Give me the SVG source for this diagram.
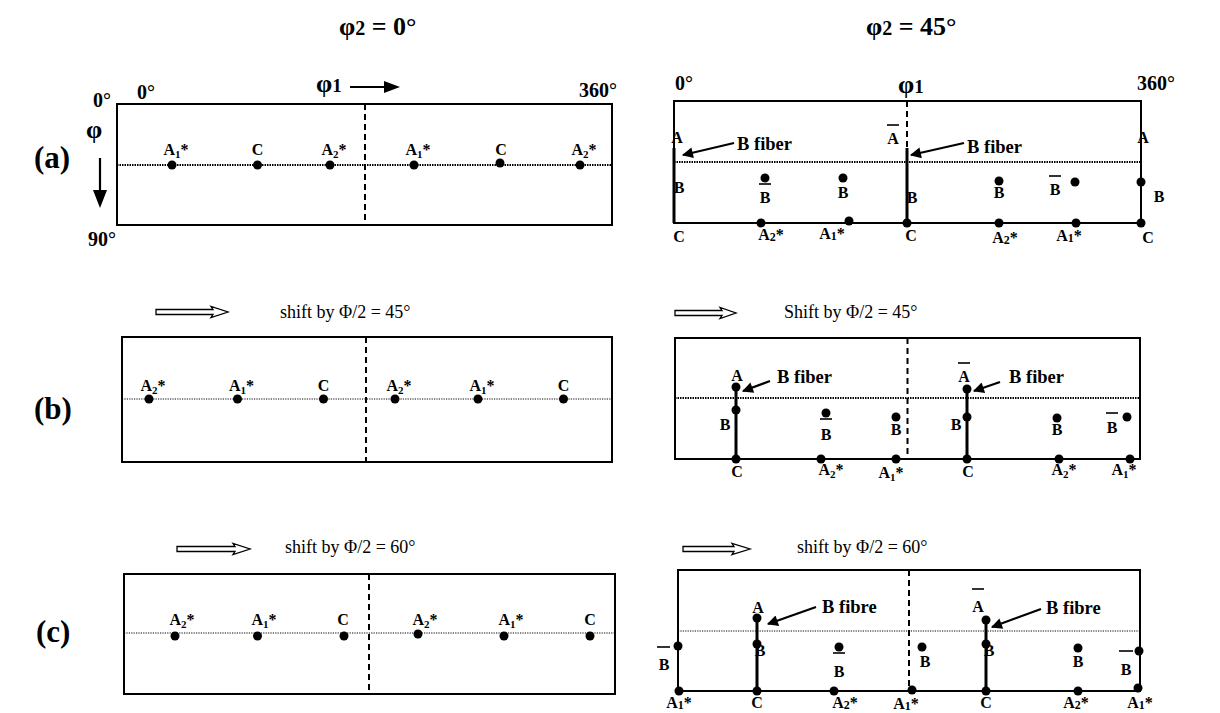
<svg xmlns="http://www.w3.org/2000/svg" width="1220" height="713" viewBox="0 0 1220 713">
<style>
text{font-family:"Liberation Serif","Times New Roman",serif;fill:#000}
.b{font-weight:bold;font-size:16px}
.bc{font-weight:bold;font-size:16px;text-anchor:middle}
.fb{font-weight:bold;font-size:18.5px}
.ti{font-weight:bold;font-size:26px}
.ax{font-weight:bold;font-size:20px}
.rl{font-weight:bold;font-size:31px}
.sh{font-size:18px}
.box{fill:none;stroke:#000;stroke-width:2}
.dash{stroke:#000;stroke-width:2;stroke-dasharray:6,4}
.dot1{stroke:#000;stroke-width:1.8;stroke-dasharray:1.5,1}
.dot2{stroke:#000;stroke-width:1;stroke-dasharray:1.2,1.2}
.thk{stroke:#000;stroke-width:3}
.bar{stroke:#000;stroke-width:1.6}
.arr{stroke:#000;stroke-width:2.2;fill:none}
.hol{fill:#fff;stroke:#000;stroke-width:1.3}
circle{fill:#000}
</style>
<defs>
<marker id="ah" viewBox="0 0 10 10" refX="9" refY="5" markerWidth="6" markerHeight="5" markerUnits="strokeWidth" orient="auto">
<path d="M0,0 L10,5 L0,10 z" fill="#000"/>
</marker>
</defs>

<!-- titles and row labels -->
<g id="titles">
<text class="ti" x="339" y="35">φ<tspan font-size="20">2</tspan> = 0°</text>
<text class="ti" x="866" y="35">φ<tspan font-size="20">2</tspan> = 45°</text>
<text class="rl" x="34" y="168">(a)</text>
<text class="rl" x="34" y="419">(b)</text>
<text class="rl" x="36" y="642">(c)</text>
</g>

<!-- (a) phi2 = 0 -->
<g id="a-left">
<rect class="box" x="117" y="104" width="495" height="121"/>
<line class="dash" x1="365" y1="104" x2="365" y2="225"/>
<line class="dot1" x1="117" y1="165" x2="612" y2="165"/>
<text class="ax" x="93" y="107">0°</text>
<text class="ax" x="137" y="99">0°</text>
<text class="ax" x="579" y="97">360°</text>
<text class="ax" x="88" y="246">90°</text>
<text class="ti" x="316" y="92" font-size="25">φ<tspan font-size="19">1</tspan></text>
<line class="arr" x1="350" y1="87" x2="386" y2="87"/>
<path d="M384,81 L400,87 L384,93 z" fill="#000"/>
<text class="ti" x="86" y="138" font-size="26">φ</text>
<line class="arr" x1="100" y1="158" x2="100" y2="192"/>
<path d="M93,190 L100,208 L107,190 z" fill="#000"/>
<circle cx="172" cy="165" r="4.5"/><circle cx="257.5" cy="165" r="4.5"/><circle cx="330" cy="165" r="4.5"/>
<circle cx="414" cy="165" r="4.5"/><circle cx="500" cy="163" r="4.5"/><circle cx="580" cy="165" r="4.5"/>
<text class="bc" x="176" y="155">A<tspan font-size="11" dy="3">1</tspan><tspan dy="-3">*</tspan></text>
<text class="bc" x="257.5" y="155">C</text>
<text class="bc" x="334" y="155">A<tspan font-size="11" dy="3">2</tspan><tspan dy="-3">*</tspan></text>
<text class="bc" x="418" y="155">A<tspan font-size="11" dy="3">1</tspan><tspan dy="-3">*</tspan></text>
<text class="bc" x="501" y="155">C</text>
<text class="bc" x="584" y="155">A<tspan font-size="11" dy="3">2</tspan><tspan dy="-3">*</tspan></text>
</g>

<!-- (a) phi2 = 45 -->
<g id="a-right">
<rect class="box" x="674" y="101" width="467" height="122"/>
<line class="dash" x1="907" y1="101" x2="907" y2="148"/>
<line class="thk" x1="907" y1="148" x2="907" y2="223"/>
<line class="thk" x1="674" y1="148" x2="674" y2="223"/>
<line class="dot1" x1="674" y1="162" x2="1141" y2="162"/>
<text class="ax" x="675" y="90">0°</text>
<text class="ax" x="1137" y="90">360°</text>
<text class="ti" x="898" y="93" font-size="25">φ<tspan font-size="19">1</tspan></text>
<text class="bc" x="677" y="143">A</text>
<text class="bc" x="1143" y="143">A</text>
<text class="bc" x="893" y="144">A</text><line class="bar" x1="887" y1="125" x2="899" y2="125"/>
<line class="arr" x1="734" y1="143" x2="683" y2="155" marker-end="url(#ah)"/>
<line class="arr" x1="964" y1="143" x2="911" y2="155" marker-end="url(#ah)"/>
<text class="fb" x="737" y="150">B fiber</text>
<text class="fb" x="967" y="153">B fiber</text>
<text class="bc" x="679" y="193">B</text>
<circle cx="765" cy="178" r="4.5"/><line class="bar" x1="759" y1="184" x2="771" y2="184"/><text class="bc" x="765" y="203">B</text>
<circle cx="843" cy="178" r="4.5"/><text class="bc" x="843" y="198">B</text>
<text class="bc" x="912" y="203">B</text>
<circle cx="999" cy="181" r="4.5"/><text class="bc" x="999" y="198">B</text>
<line class="bar" x1="1049" y1="176" x2="1061" y2="176"/><text class="bc" x="1055" y="195">B</text><circle cx="1075" cy="182" r="4.5"/>
<circle cx="1141" cy="182" r="4.5"/><text class="bc" x="1159" y="202">B</text>
<circle cx="761" cy="223" r="4.5"/><circle cx="849" cy="221" r="4.5"/><circle cx="907" cy="223" r="4.5"/>
<circle cx="999" cy="223" r="4.5"/><circle cx="1076" cy="223" r="4.5"/><circle cx="1141" cy="223" r="4.5"/>
<text class="bc" x="679" y="242">C</text>
<text class="bc" x="771" y="240">A<tspan font-size="12" dy="1">2</tspan><tspan dy="-1">*</tspan></text>
<text class="bc" x="832" y="239">A<tspan font-size="12" dy="1">1</tspan><tspan dy="-1">*</tspan></text>
<text class="bc" x="911" y="241">C</text>
<text class="bc" x="1005" y="243">A<tspan font-size="12" dy="1">2</tspan><tspan dy="-1">*</tspan></text>
<text class="bc" x="1069" y="241">A<tspan font-size="12" dy="1">1</tspan><tspan dy="-1">*</tspan></text>
<text class="bc" x="1148" y="243">C</text>
</g>

<!-- (b) left -->
<g id="b-left">
<path class="hol" d="M156,309.5 L213,309.5 L211,306.5 L228,312 L211,317.5 L213,314.5 L156,314.5 z"/>
<text class="sh" x="280" y="318">shift by Φ/2 = 45°</text>
<rect class="box" x="122" y="337" width="490" height="125"/>
<line class="dash" x1="366" y1="337" x2="366" y2="462"/>
<line class="dot2" x1="122" y1="399" x2="612" y2="399"/>
<circle cx="149" cy="399" r="4.5"/><circle cx="237.5" cy="399" r="4.5"/><circle cx="323.5" cy="399" r="4.5"/>
<circle cx="395" cy="399" r="4.5"/><circle cx="478" cy="399" r="4.5"/><circle cx="563.5" cy="399" r="4.5"/>
<text class="bc" x="153" y="391">A<tspan font-size="11" dy="3">2</tspan><tspan dy="-3">*</tspan></text>
<text class="bc" x="241.5" y="391">A<tspan font-size="11" dy="3">1</tspan><tspan dy="-3">*</tspan></text>
<text class="bc" x="323.5" y="391">C</text>
<text class="bc" x="399" y="391">A<tspan font-size="11" dy="3">2</tspan><tspan dy="-3">*</tspan></text>
<text class="bc" x="482" y="391">A<tspan font-size="11" dy="3">1</tspan><tspan dy="-3">*</tspan></text>
<text class="bc" x="563.5" y="391">C</text>
</g>

<!-- (b) right -->
<g id="b-right">
<path class="hol" d="M675,310.5 L722,310.5 L720,307.5 L736,313 L720,318.5 L722,315.5 L675,315.5 z"/>
<text class="sh" x="784" y="318" font-size="17.5">Shift by Φ/2 = 45°</text>
<rect class="box" x="675" y="338" width="465" height="121"/>
<line class="dash" x1="907.5" y1="338" x2="907.5" y2="459"/>
<line class="dot1" x1="675" y1="398" x2="1140" y2="398"/>
<line class="thk" x1="736" y1="387" x2="736" y2="459"/>
<line class="thk" x1="967" y1="389" x2="967" y2="459"/>
<circle cx="736" cy="387" r="4.5"/><circle cx="736" cy="410" r="4.5"/>
<circle cx="967" cy="389" r="4.5"/><circle cx="967" cy="417" r="4.5"/>
<text class="bc" x="737" y="381">A</text>
<line class="arr" x1="770" y1="381" x2="743" y2="391" marker-end="url(#ah)"/>
<text class="fb" x="777" y="383">B fiber</text>
<text class="bc" x="725" y="430">B</text>
<circle cx="826" cy="413" r="4.5"/><line class="bar" x1="820" y1="419" x2="832" y2="419"/><text class="bc" x="826" y="440">B</text>
<circle cx="896" cy="417" r="4.5"/><text class="bc" x="896" y="435">B</text>
<text class="bc" x="964" y="382">A</text><line class="bar" x1="958" y1="363" x2="970" y2="363"/>
<line class="arr" x1="1000" y1="382" x2="974" y2="391" marker-end="url(#ah)"/>
<text class="fb" x="1009" y="383">B fiber</text>
<text class="bc" x="956" y="430">B</text>
<circle cx="1057" cy="418" r="4.5"/><text class="bc" x="1057" y="435">B</text>
<line class="bar" x1="1106" y1="413" x2="1118" y2="413"/><text class="bc" x="1112" y="433">B</text><circle cx="1127" cy="417" r="4.5"/>
<circle cx="736" cy="459" r="4.5"/><circle cx="821" cy="459" r="4.5"/><circle cx="896" cy="459" r="4.5"/>
<circle cx="967" cy="459" r="4.5"/><circle cx="1059" cy="459" r="4.5"/><circle cx="1130" cy="459" r="4.5"/>
<text class="bc" x="737" y="477">C</text>
<text class="bc" x="831" y="475">A<tspan font-size="11" dy="3">2</tspan><tspan dy="-3">*</tspan></text>
<text class="bc" x="891" y="478">A<tspan font-size="11" dy="3">1</tspan><tspan dy="-3">*</tspan></text>
<text class="bc" x="968" y="477">C</text>
<text class="bc" x="1064" y="475">A<tspan font-size="11" dy="3">2</tspan><tspan dy="-3">*</tspan></text>
<text class="bc" x="1124" y="475">A<tspan font-size="11" dy="3">1</tspan><tspan dy="-3">*</tspan></text>
</g>

<!-- (c) left -->
<g id="c-left">
<path class="hol" d="M177,546.5 L235,546.5 L233,543.5 L250,549 L233,554.5 L235,551.5 L177,551.5 z"/>
<text class="sh" x="285" y="553">shift by Φ/2 = 60°</text>
<rect class="box" x="124" y="574" width="491" height="120"/>
<line class="dash" x1="369" y1="574" x2="369" y2="694"/>
<line class="dot2" x1="124" y1="633" x2="615" y2="633"/>
<circle cx="175" cy="636" r="4.5"/><circle cx="257.5" cy="636" r="4.5"/><circle cx="344" cy="636" r="4.5"/>
<circle cx="418" cy="634" r="4.5"/><circle cx="504" cy="636" r="4.5"/><circle cx="590" cy="636" r="4.5"/>
<text class="bc" x="182" y="625">A<tspan font-size="11" dy="3">2</tspan><tspan dy="-3">*</tspan></text>
<text class="bc" x="264" y="625">A<tspan font-size="11" dy="3">1</tspan><tspan dy="-3">*</tspan></text>
<text class="bc" x="343" y="625">C</text>
<text class="bc" x="425" y="625">A<tspan font-size="11" dy="3">2</tspan><tspan dy="-3">*</tspan></text>
<text class="bc" x="511" y="625">A<tspan font-size="11" dy="3">1</tspan><tspan dy="-3">*</tspan></text>
<text class="bc" x="590" y="625">C</text>
</g>

<!-- (c) right -->
<g id="c-right">
<path class="hol" d="M683,546.5 L734,546.5 L732,543.5 L750,549 L732,554.5 L734,551.5 L683,551.5 z"/>
<text class="sh" x="797" y="553">shift by Φ/2 = 60°</text>
<rect class="box" x="678" y="570" width="462" height="121"/>
<line class="dash" x1="909" y1="570" x2="909" y2="691"/>
<line class="dot2" x1="678" y1="631" x2="1140" y2="631"/>
<line class="thk" x1="757" y1="618" x2="757" y2="691"/>
<line class="thk" x1="986" y1="620" x2="986" y2="691"/>
<circle cx="678" cy="646" r="4.5"/>
<line class="bar" x1="657" y1="647" x2="670" y2="647"/><text class="bc" x="664" y="670">B</text>
<circle cx="757" cy="618" r="4.5"/><circle cx="757" cy="644" r="4.5"/>
<text class="bc" x="758" y="613">A</text>
<line class="arr" x1="816" y1="607" x2="768" y2="624" marker-end="url(#ah)"/>
<text class="fb" x="822" y="613">B fibre</text>
<text class="bc" x="760" y="656">B</text>
<circle cx="839" cy="647" r="4.5"/><line class="bar" x1="833" y1="653" x2="845" y2="653"/><text class="bc" x="839" y="677">B</text>
<circle cx="922" cy="647" r="4.5"/><text class="bc" x="925" y="667">B</text>
<circle cx="986" cy="620" r="4.5"/><circle cx="986" cy="644" r="4.5"/>
<text class="bc" x="978" y="612">A</text><line class="bar" x1="972" y1="589" x2="984" y2="589"/>
<line class="arr" x1="1041" y1="609" x2="992" y2="627" marker-end="url(#ah)"/>
<text class="fb" x="1046" y="614">B fibre</text>
<text class="bc" x="989" y="656">B</text>
<circle cx="1078" cy="648" r="4.5"/><text class="bc" x="1078" y="667">B</text>
<line class="bar" x1="1119" y1="651" x2="1133" y2="651"/><text class="bc" x="1126" y="675">B</text>
<circle cx="1139" cy="651" r="4.5"/>
<circle cx="679" cy="691" r="4.5"/><circle cx="757" cy="691" r="4.5"/><circle cx="834" cy="691" r="4.5"/>
<circle cx="912" cy="690" r="4.5"/><circle cx="986" cy="691" r="4.5"/><circle cx="1078" cy="691" r="4.5"/>
<circle cx="1138" cy="688" r="4.5"/>
<text class="bc" x="679" y="708">A<tspan font-size="12" dy="1">1</tspan><tspan dy="-1">*</tspan></text>
<text class="bc" x="757" y="708">C</text>
<text class="bc" x="845" y="708">A<tspan font-size="12" dy="1">2</tspan><tspan dy="-1">*</tspan></text>
<text class="bc" x="906" y="709">A<tspan font-size="12" dy="1">1</tspan><tspan dy="-1">*</tspan></text>
<text class="bc" x="986" y="708">C</text>
<text class="bc" x="1076" y="708">A<tspan font-size="12" dy="1">2</tspan><tspan dy="-1">*</tspan></text>
<text class="bc" x="1140" y="708">A<tspan font-size="12" dy="1">1</tspan><tspan dy="-1">*</tspan></text>
</g>
</svg>
